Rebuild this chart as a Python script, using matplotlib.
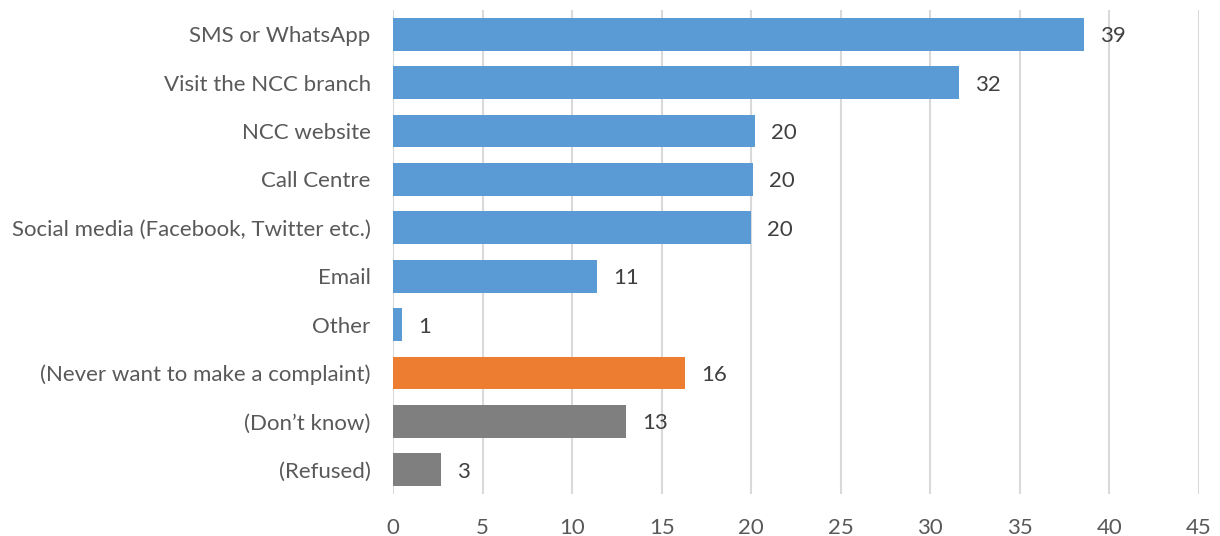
import matplotlib.pyplot as plt

plt.rcParams['font.family'] = ['Lato', 'DejaVu Sans']

categories = ['SMS or WhatsApp', 'Visit the NCC branch', 'NCC website', 'Call Centre',
              'Social media (Facebook, Twitter etc.)', 'Email', 'Other',
              '(Never want to make a complaint)', '(Don\u2019t know)', '(Refused)']
values = [38.6, 31.6, 20.2, 20.1, 20.0, 11.4, 0.5, 16.3, 13.0, 2.7]
shown = ['39', '32', '20', '20', '20', '11', '1', '16', '13', '3']
colors = ['#5B9BD5'] * 7 + ['#ED7D31', '#7F7F7F', '#7F7F7F']
xticks = [0, 5, 10, 15, 20, 25, 30, 35, 40, 45]

fig = plt.figure(figsize=(12.2, 5.36), dpi=100)
ax = fig.add_axes([0.3221, 0.0784, 0.6607, 0.9030])

pos = list(range(len(categories)))
ax.barh(pos, values, height=0.675, color=colors, zorder=3)
for p, v, s in zip(pos, values, shown):
    ax.text(v + 0.9, p + 0.04, s, va='center', ha='left', fontsize=16, color='#404040')

ax.set_ylim(len(categories) - 0.5, -0.5)
ax.set_xlim(0, 45)
ax.set_yticks(pos)
ax.set_yticklabels(categories, fontsize=16, color='#595959')
ax.set_xticks(xticks)
ax.set_xticklabels([str(t) for t in xticks], fontsize=16, color='#595959')
ax.tick_params(axis='y', length=0, pad=16)
ax.tick_params(axis='x', length=0, pad=17)
ax.grid(axis='x', color='#D9D9D9', linewidth=1.5, zorder=0)
for sp in ax.spines.values():
    sp.set_visible(False)

fig.savefig('out.png', dpi=100)
